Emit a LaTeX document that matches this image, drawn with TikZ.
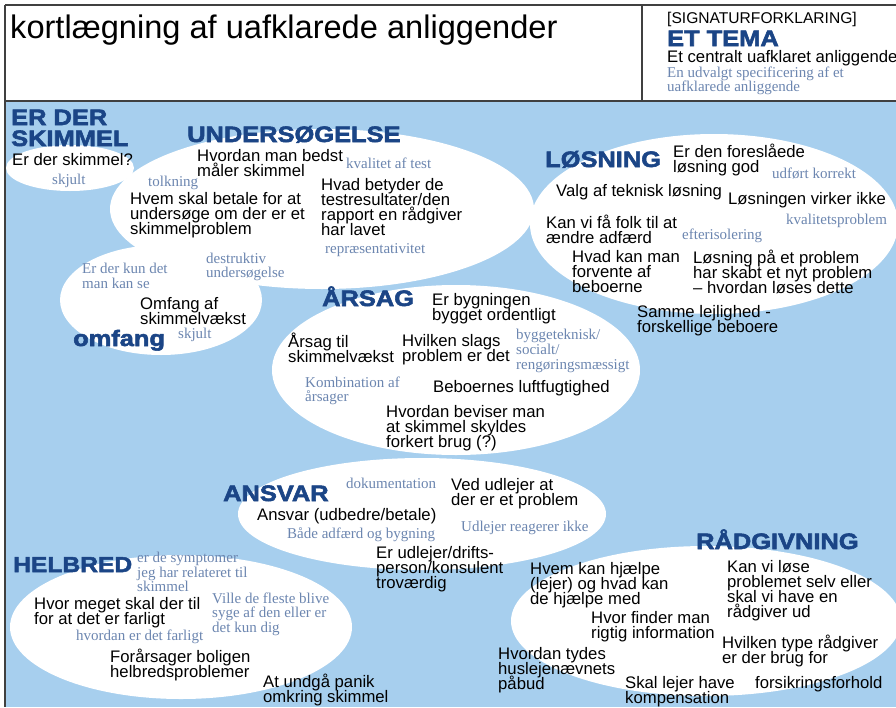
\documentclass[tikz,border=0pt]{standalone}
\usepackage{fontspec}
\setmainfont{Liberation Sans}
\newfontfamily\notefont{Liberation Serif}
\newfontfamily\ttlfont[FakeStretch=1.14,FakeBold=2.5]{Liberation Sans Bold}
\definecolor{bgblue}{HTML}{A7CFEE}
\definecolor{themecol}{HTML}{1B4586}
\definecolor{notecol}{HTML}{6C86B0}
\definecolor{framecol}{HTML}{404040}
\setlength{\lineskiplimit}{-100pt}
\setlength{\lineskip}{0pt}
\begin{document}
\begin{tikzpicture}[x=1pt,y=-1pt,
  body/.style={anchor=west, inner sep=0pt, align=left, font=\fontsize{16.7}{15}\selectfont},
  note/.style={anchor=west, inner sep=0pt, align=left, text=notecol, font=\notefont\fontsize{15}{14.6}\selectfont},
  theme/.style={anchor=base west, inner sep=0pt, text=themecol, font=\ttlfont\fontsize{22.3}{21}\selectfont},
  blob/.style={fill=white, draw=none},
  frame/.style={draw=framecol, line width=1.5pt}]

\useasboundingbox (0,0) rectangle (896,707);
\fill[white] (0,0) rectangle (896,707);
\fill[bgblue] (5,101) rectangle (896,707);

% white areas
\fill[blob] (70,168) ellipse [x radius=64pt, y radius=23pt];
\fill[blob] (322,209) ellipse [x radius=212pt, y radius=80pt];
\fill[blob] (161,300) ellipse [x radius=101pt, y radius=55pt];
\fill[blob] (714,224) ellipse [x radius=184pt, y radius=90pt];
\fill[blob] (456,370) ellipse [x radius=184pt, y radius=85pt];
\fill[blob] (422,514) ellipse [x radius=184pt, y radius=56pt];
\fill[blob] (181,627) ellipse [x radius=171pt, y radius=72pt];
\fill[blob] (706,621) ellipse [x radius=195pt, y radius=75pt];

% frame
\draw[frame] (5,5) -- (896,5);
\draw[frame] (5,5) -- (5,707);
\draw[frame] (5,101) -- (896,101);
\draw[frame] (642,5) -- (642,101);

% header
\node[anchor=base west, inner sep=0pt, font=\fontsize{32.6}{34}\selectfont] (h1) at (10,38) {kortlægning af uafklarede anliggender};
\node[anchor=base west, inner sep=0pt, font=\fontsize{15.6}{16}\selectfont] (h2) at (667,23) {[SIGNATURFORKLARING]};
\node[theme] (h3) at (667,46) {ET TEMA};
\node[body, anchor=base west] (h4) at (667,62.5) {Et centralt uafklaret anliggende};
\node[note] (h5) at (667,81) {En udvalgt specificering af et\\uafklarede anliggende};

% ER DER SKIMMEL
\node[theme] (t1a) at (11,125) {ER DER};
\node[theme] (t1b) at (11,146) {SKIMMEL};
\node[body] (b1) at (12,160) {Er der skimmel?};
\node[note] (n1) at (52,181) {skjult};

% UNDERSOGELSE
\node[theme] (t2) at (187,142) {UNDERSØGELSE};
\node[body] (b2) at (197,163) {Hvordan man bedst\\måler skimmel};
\node[note] (n2) at (346,163) {kvalitet af test};
\node[note] (n3) at (148,183) {tolkning};
\node[body] (b3) at (130,215) {Hvem skal betale for at\\undersøge om der er et\\skimmelproblem};
\node[body] (b4) at (321,207) {Hvad betyder de\\testresultater/den\\rapport en rådgiver\\har lavet};
\node[note] (n4) at (325,250) {repræsentativitet};
\node[note] (n5) at (206,267) {destruktiv\\undersøgelse};
\node[note] (n6) at (82,276) {Er der kun det\\man kan se};
\node[body] (b5) at (140,311) {Omfang af\\skimmelvækst};
\node[theme] (t3) at (73,346) {omfang};
\node[note] (n7) at (178,335) {skjult};

% LOSNING
\node[theme] (t4) at (545,167) {LØSNING};
\node[body] (b6) at (673,160) {Er den foreslåede\\løsning god};
\node[note] (n8) at (772,174) {udført korrekt};
\node[body] (b7) at (556,192) {Valg af teknisk løsning};
\node[body] (b8) at (728,200) {Løsningen virker ikke};
\node[body] (b9) at (546,229) {Kan vi få folk til at\\ændre adfærd};
\node[note] (n9) at (786,221) {kvalitetsproblem};
\node[note] (n10) at (682,236) {efterisolering};
\node[body] (b10) at (572,272) {Hvad kan man\\forvente af\\beboerne};
\node[body] (b11) at (693,272) {Løsning på et problem\\har skabt et nyt problem\\– hvordan løses dette};
\node[body] (b12) at (637,321) {Samme lejlighed -\\forskellige beboere};

% ARSAG
\node[theme] (t5) at (322,306) {ÅRSAG};
\node[body] (b13) at (432,309) {Er bygningen\\bygget ordentligt};
\node[body] (b14) at (288,348) {Årsag til\\skimmelvækst};
\node[body] (b15) at (402,350) {Hvilken slags\\problem er det};
\node[note] (n11) at (516,351) {byggeteknisk/\\socialt/\\rengøringsmæssigt};
\node[note] (n12) at (305,391) {Kombination af\\årsager};
\node[body] (b16) at (433,388) {Beboernes luftfugtighed};
\node[body] (b17) at (386,428) {Hvordan beviser man\\at skimmel skyldes\\forkert brug (?)};

% ANSVAR
\node[theme] (t6) at (223,501) {ANSVAR};
\node[note] (n13) at (346,483) {dokumentation};
\node[body] (b18) at (451,494) {Ved udlejer at\\der er et problem};
\node[body] (b19) at (257,516) {Ansvar (udbedre/betale)};
\node[note] (n14) at (461,528) {Udlejer reagerer ikke};
\node[note] (n15) at (287,535) {Både adfærd og bygning};
\node[body] (b20) at (376,569) {Er udlejer/drifts-\\person/konsulent\\troværdig};

% HELBRED
\node[theme, font=\ttlfont\fontsize{21.6}{21}\selectfont] (t7) at (13,572) {HELBRED};
\node[note] (n16) at (137,572) {er de symptomer\\jeg har relateret til\\skimmel};
\node[note] (n17) at (212,614) {Ville de fleste blive\\syge af den eller er\\det kun dig};
\node[body] (b21) at (34,613) {Hvor meget skal der til\\for at det er farligt};
\node[note] (n18) at (76,637) {hvordan er det farligt};
\node[body] (b22) at (110,665) {Forårsager boligen\\helbredsproblemer};
\node[body] (b23) at (263,690) {At undgå panik\\omkring skimmel};

% RADGIVNING
\node[theme] (t8) at (696,549) {RÅDGIVNING};
\node[body] (b24) at (530,585) {Hvem kan hjælpe\\(lejer) og hvad kan\\de hjælpe med};
\node[body] (b25) at (727,591) {Kan vi løse\\problemet selv eller\\skal vi have en\\rådgiver ud};
\node[body] (b26) at (591,627) {Hvor finder man\\rigtig information};
\node[body] (b27) at (722,651) {Hvilken type rådgiver\\er der brug for};
\node[body] (b28) at (498,670) {Hvordan tydes\\huslejenævnets\\påbud};
\node[body] (b29) at (625,692) {Skal lejer have\\kompensation};
\node[body] (b30) at (755,684) {forsikringsforhold};
\end{tikzpicture}
\end{document}
